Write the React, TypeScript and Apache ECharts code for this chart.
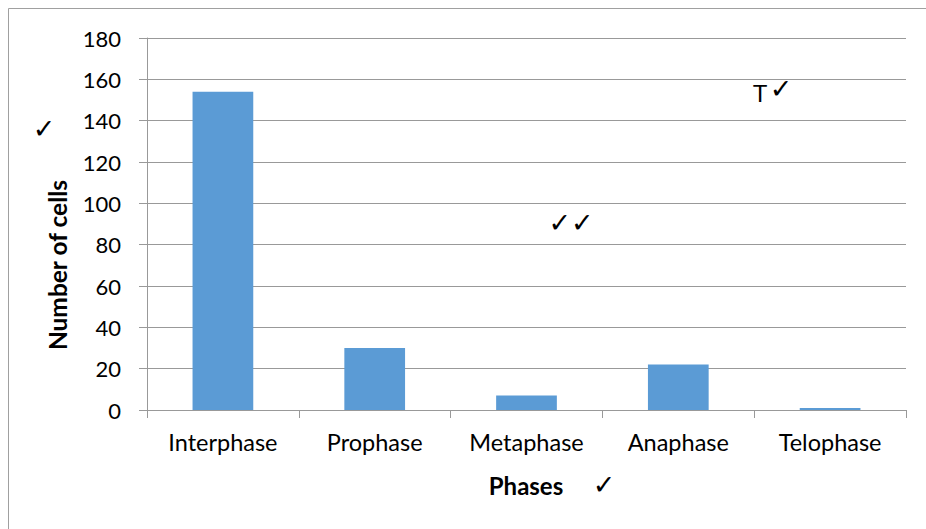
import React, { useEffect, useRef } from "react";
import * as echarts from "echarts";

const categories = ["Interphase", "Prophase", "Metaphase", "Anaphase", "Telophase"];
const cellCounts = [154, 30, 7, 22, 1];
const yTicks = { min: 0, max: 180, interval: 20 };
const xTitle = "Phases";
const yTitle = "Number of cells";

const FONT = "Lato, 'Open Sans', sans-serif";
const CHECK_FONT = "bold 27px 'DejaVu Sans'";

export default function App() {
  const ref = useRef<HTMLDivElement>(null);
  useEffect(() => {
    document.body.style.margin = "0";
    const chart = echarts.init(ref.current!, null, { renderer: "svg" });
    chart.setOption({
      animation: false,
      backgroundColor: "#ffffff",
      grid: { left: 147, right: 20, top: 38, bottom: 119 },
      xAxis: {
        type: "category",
        data: categories,
        axisLine: { lineStyle: { color: "#999999", width: 1 } },
        axisTick: { show: true, length: 8, lineStyle: { color: "#999999" } },
        axisLabel: {
          color: "#000000",
          fontSize: 23.5,
          fontFamily: FONT,
          margin: 20,
          interval: 0,
          hideOverlap: false,
        },
      },
      yAxis: {
        type: "value",
        min: yTicks.min,
        max: yTicks.max,
        interval: yTicks.interval,
        axisLine: { show: true, lineStyle: { color: "#999999", width: 1 } },
        axisTick: { show: true, length: 8, lineStyle: { color: "#999999" } },
        splitLine: { lineStyle: { color: "#999999", width: 1 } },
        axisLabel: { color: "#000000", fontSize: 22, fontFamily: FONT, margin: 26 },
      },
      series: [
        {
          type: "bar",
          data: cellCounts,
          barWidth: "40%",
          itemStyle: { color: "#5B9BD5" },
        },
      ],
      graphic: [
        {
          type: "rect",
          shape: { x: 8.5, y: 8.5, width: 940, height: 540 },
          style: { fill: "none", stroke: "#a0a0a0", lineWidth: 1 },
          silent: true,
        },
        {
          type: "text",
          x: 57,
          y: 265,
          rotation: Math.PI / 2,
          style: {
            text: yTitle,
            font: `bold 24.5px ${FONT}`,
            fill: "#000",
            align: "center",
            verticalAlign: "middle",
          },
        },
        {
          type: "text",
          x: 526,
          y: 485,
          style: {
            text: xTitle,
            font: `bold 24px ${FONT}`,
            fill: "#000",
            align: "center",
            verticalAlign: "middle",
          },
        },
        {
          type: "text",
          x: 604,
          y: 484,
          style: { text: "✓", font: CHECK_FONT, fill: "#000", align: "center", verticalAlign: "middle" },
        },
        {
          type: "text",
          x: 44,
          y: 128,
          style: { text: "✓", font: CHECK_FONT, fill: "#000", align: "center", verticalAlign: "middle" },
        },
        {
          type: "text",
          x: 571,
          y: 222,
          style: { text: "✓✓", font: CHECK_FONT, fill: "#000", align: "center", verticalAlign: "middle" },
        },
        {
          type: "text",
          x: 760,
          y: 93,
          style: { text: "T", font: "24px 'Liberation Sans'", fill: "#000", align: "center", verticalAlign: "middle" },
        },
        {
          type: "text",
          x: 781,
          y: 88,
          style: { text: "✓", font: CHECK_FONT, fill: "#000", align: "center", verticalAlign: "middle" },
        },
      ],
    });
    return () => chart.dispose();
  }, []);
  return <div ref={ref} style={{ width: 926, height: 529 }} />;
}
